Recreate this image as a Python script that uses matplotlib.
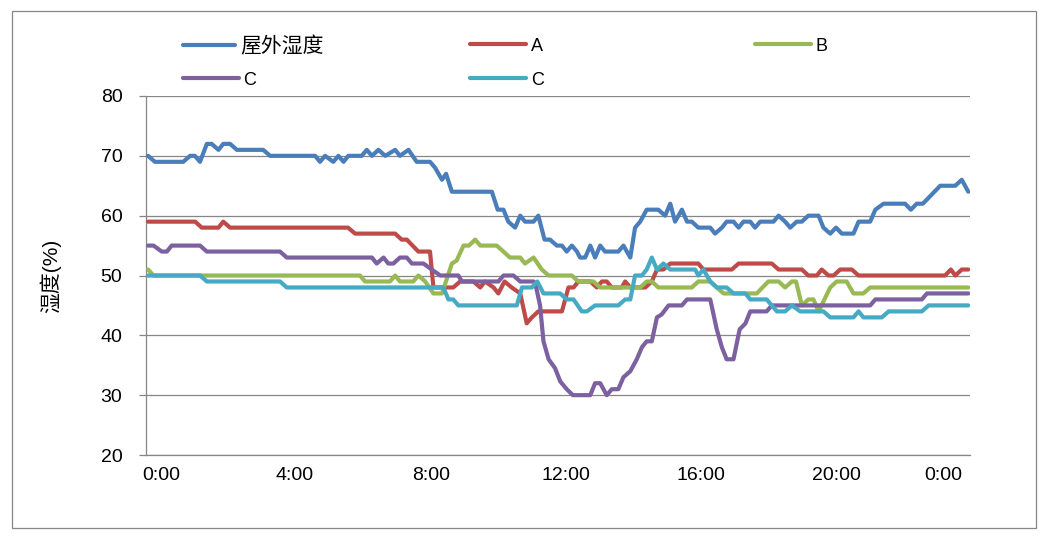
import matplotlib
matplotlib.use("Agg")
import matplotlib.pyplot as plt
from matplotlib.patches import Rectangle

plt.rcParams['font.family'] = ['Liberation Sans', 'Noto Sans CJK SC', 'DejaVu Sans']

# time in hours, humidity in %
outdoor_t = [0, 0.2, 0.35, 1.03, 1.23, 1.37, 1.52, 1.72, 1.86, 2.06, 2.2, 2.4, 2.6, 3.37, 3.57, 4.89, 5.03, 5.18,
             5.42, 5.57, 5.72, 5.86, 6.25, 6.4, 6.55, 6.74, 6.94, 7.23, 7.37, 7.62, 7.86, 8.25, 8.4, 8.6, 8.72, 8.89,
             10.06, 10.23, 10.4, 10.54, 10.74, 10.89, 11.03, 11.28, 11.42, 11.6, 11.76, 11.96, 12.11, 12.25, 12.4,
             12.55, 12.64, 12.79, 12.94, 13.08, 13.23, 13.37, 13.52, 13.76, 13.91, 14.11, 14.25, 14.4, 14.59, 14.93,
             15.13, 15.28, 15.42, 15.62, 15.77, 15.91, 16.1, 16.45, 16.59, 16.79, 16.93, 17.13, 17.28, 17.42, 17.62,
             17.76, 17.91, 18.06, 18.3, 18.45, 18.64, 18.79, 18.98, 19.13, 19.32, 19.62, 19.76, 19.96, 20.13, 20.3,
             20.64, 20.79, 21.13, 21.28, 21.52, 22.15, 22.32, 22.49, 22.67, 23.18, 23.62, 23.81, 24.0]
outdoor_v = [70, 69, 69, 69, 70, 70, 69, 72, 72, 71, 72, 72, 71, 71, 70, 70, 69, 70,
             69, 70, 69, 70, 70, 71, 70, 71, 70, 71, 70, 71, 69, 69, 68, 66, 67, 64,
             64, 61, 61, 59, 58, 60, 59, 59, 60, 56, 56, 55, 55, 54, 55,
             54, 53, 53, 55, 53, 55, 54, 54, 54, 55, 53, 58, 59, 61, 61,
             60, 62, 59, 61, 59, 59, 58, 58, 57, 58, 59, 59, 58, 59, 59,
             58, 59, 59, 59, 60, 59, 58, 59, 59, 60, 60, 58, 57, 58, 57,
             57, 59, 59, 61, 62, 62, 61, 62, 62, 65, 65, 66, 64]

a_t = [0, 1.38, 1.57, 2.06, 2.2, 2.4, 5.85, 6.06, 7.23, 7.42, 7.57, 7.91, 8.25, 8.35, 8.69, 8.93, 9.13, 9.52, 9.72,
       9.86, 10.11, 10.25, 10.43, 10.64, 10.89, 11.08, 11.23, 11.42, 12.11, 12.3, 12.45, 12.59, 12.94, 13.13,
       13.28, 13.42, 13.57, 13.86, 13.96, 14.11, 14.55, 14.74, 14.89, 15.08, 15.28, 16.1, 16.25, 17.08, 17.28,
       18.25, 18.45, 19.13, 19.32, 19.57, 19.71, 19.91, 20.06, 20.25, 20.59, 20.79, 23.32, 23.49, 23.62, 23.81, 24.0]
a_v = [59, 59, 58, 58, 59, 58, 58, 57, 57, 56, 56, 54, 54, 48, 48, 48, 49, 49, 48,
       49, 48, 47, 49, 48, 47, 42, 43, 44, 44, 48, 48, 49, 49, 48,
       49, 49, 48, 48, 49, 48, 48, 49, 51, 51, 52, 52, 51, 51, 52,
       52, 51, 51, 50, 50, 51, 50, 50, 51, 51, 50, 50, 51, 50, 51, 51]

b_t = [0, 0.16, 6.2, 6.35, 7.08, 7.23, 7.37, 7.76, 7.91, 8.11, 8.35, 8.6, 8.89, 9.03, 9.23, 9.39, 9.57, 9.72, 10.2,
       10.4, 10.59, 10.89, 11.03, 11.28, 11.52, 11.72, 12.4, 12.59, 13.03, 13.23, 14.4, 14.59, 14.74, 14.93, 15.91,
       16.1, 16.45, 16.64, 16.84, 17.81, 18.15, 18.45, 18.64, 18.84, 18.96, 19.13, 19.32, 19.47, 19.62, 19.96,
       20.15, 20.44, 20.64, 20.93, 21.13, 24.0]
b_v = [51, 50, 50, 49, 49, 50, 49, 49, 50, 49, 47, 47, 52, 52.5, 55, 55, 56, 55, 55,
       54, 53, 53, 52, 53, 51, 50, 50, 49, 49, 48, 48, 49, 49, 48, 48,
       49, 49, 48, 47, 47, 49, 49, 48, 49, 49, 45, 46, 46, 44, 48,
       49, 49, 47, 47, 48, 48]

c1_t = [0, 0.16, 0.4, 0.55, 0.69, 1.52, 1.72, 3.86, 4.06, 6.55, 6.69, 6.89, 7.03, 7.18, 7.37, 7.57, 7.72, 8.06, 8.3,
        8.55, 9.08, 9.18, 10.25, 10.4, 10.69, 10.89, 11.28, 11.33, 11.47, 11.57, 11.72, 11.91, 12.06, 12.25, 12.43,
        12.94, 13.08, 13.23, 13.42, 13.57, 13.76, 13.91, 14.11, 14.3, 14.45, 14.59, 14.74, 14.89, 15.03, 15.23,
        15.62, 15.77, 16.45, 16.64, 16.79, 16.93, 17.13, 17.31, 17.48, 17.62, 18.1, 18.25, 21.13, 21.28, 22.64,
        22.79, 24.0]
c1_v = [55, 55, 54, 54, 55, 55, 54, 54, 53, 53, 52, 53, 52, 52, 53, 53, 52, 52, 51,
        50, 50, 49, 49, 50, 50, 49, 49, 48.7, 45, 39, 36, 34.5, 32.3, 31, 30,
        30, 32, 32, 30, 31, 31, 33, 34, 36, 38, 39, 39, 43, 43.5, 45,
        45, 46, 46, 41, 38, 36, 36, 41, 42, 44, 44, 45, 45, 46, 46,
        47, 47]

c2_t = [0, 1.52, 1.72, 3.86, 4.06, 8.64, 8.79, 8.93, 9.08, 10.79, 10.94, 11.23, 11.39, 11.57, 12.06, 12.25, 12.45,
        12.69, 12.84, 13.08, 13.76, 13.96, 14.11, 14.25, 14.45, 14.59, 14.74, 14.89, 15.08, 15.28, 16.01, 16.1,
        16.25, 16.45, 16.64, 16.93, 17.13, 17.48, 17.62, 18.1, 18.4, 18.64, 18.84, 19.08, 19.76, 19.96, 20.64,
        20.79, 20.93, 21.47, 21.67, 22.64, 22.84, 24.0]
c2_v = [50, 50, 49, 49, 48, 48, 46, 46, 45, 45, 48, 48, 49, 47, 47, 46, 46,
        44, 44, 45, 45, 46, 46, 50, 50, 51, 53, 51, 52, 51, 51, 50,
        51, 49, 48, 48, 47, 47, 46, 46, 44, 44, 45, 44, 44, 43, 43,
        44, 43, 43, 44, 44, 45, 45]

series = [
    (outdoor_t, outdoor_v, '屋外湿度', '#4A7EBB'),
    (a_t, a_v, 'A', '#BE4B48'),
    (b_t, b_v, 'B', '#98B954'),
    (c1_t, c1_v, 'C', '#7D60A0'),
    (c2_t, c2_v, 'C', '#46AAC5'),
]

tick_pos = [0.38, 4.3, 8.28, 12.23, 16.18, 20.13, 23.27]
tick_labels = ['0:00', '4:00', '8:00', '12:00', '16:00', '20:00', '0:00']

fig = plt.figure(figsize=(10.52, 5.57), dpi=100)
fig.patches.append(Rectangle((12 / 1052, 1 - 528 / 557), (1036 - 12) / 1052, (528 - 11) / 557,
                             transform=fig.transFigure, fill=False, edgecolor='#868686', lw=0.9))
ax = fig.add_axes([146 / 1052, 1 - 455 / 557, 824 / 1052, 359 / 557])

lines = []
for t, v, name, col in series:
    ln, = ax.plot(t, v, color=col, lw=3.0, solid_joinstyle='round', solid_capstyle='round', zorder=3)
    lines.append(ln)

ax.set_xlim(-0.06, 24.05)
ax.set_ylim(20, 80)
ax.set_yticks(range(20, 81, 10))
ax.set_xticks(tick_pos)
ax.set_xticklabels(tick_labels)
ax.grid(axis='y', color='#868686', lw=0.9, zorder=0)
for s in ['top', 'right']:
    ax.spines[s].set_visible(False)
for s in ['left', 'bottom']:
    ax.spines[s].set_color('#868686')
    ax.spines[s].set_linewidth(0.9)
ax.tick_params(axis='y', length=5, color='#868686', width=0.9, labelsize=14, pad=12)
ax.tick_params(axis='x', length=0, labelsize=14, pad=9)
ax.set_ylabel('湿度(%)', fontsize=15, labelpad=28)

# legend, laid out like the Excel one (row by row)
leg_pos = [(0.174, 0.917), (0.447, 0.917), (0.718, 0.917), (0.174, 0.856), (0.447, 0.856)]
for ln, (t, v, name, col), (lx, ly) in zip(lines, series, leg_pos):
    big = name == '屋外湿度'
    fig.legend([ln], [name], loc='center left', bbox_to_anchor=(lx, ly), frameon=False,
               fontsize=15 if big else 13, handlelength=2.5 if big else 3.1, handletextpad=0.25,
               borderaxespad=0, borderpad=0)

fig.savefig('out.png', dpi=100)
